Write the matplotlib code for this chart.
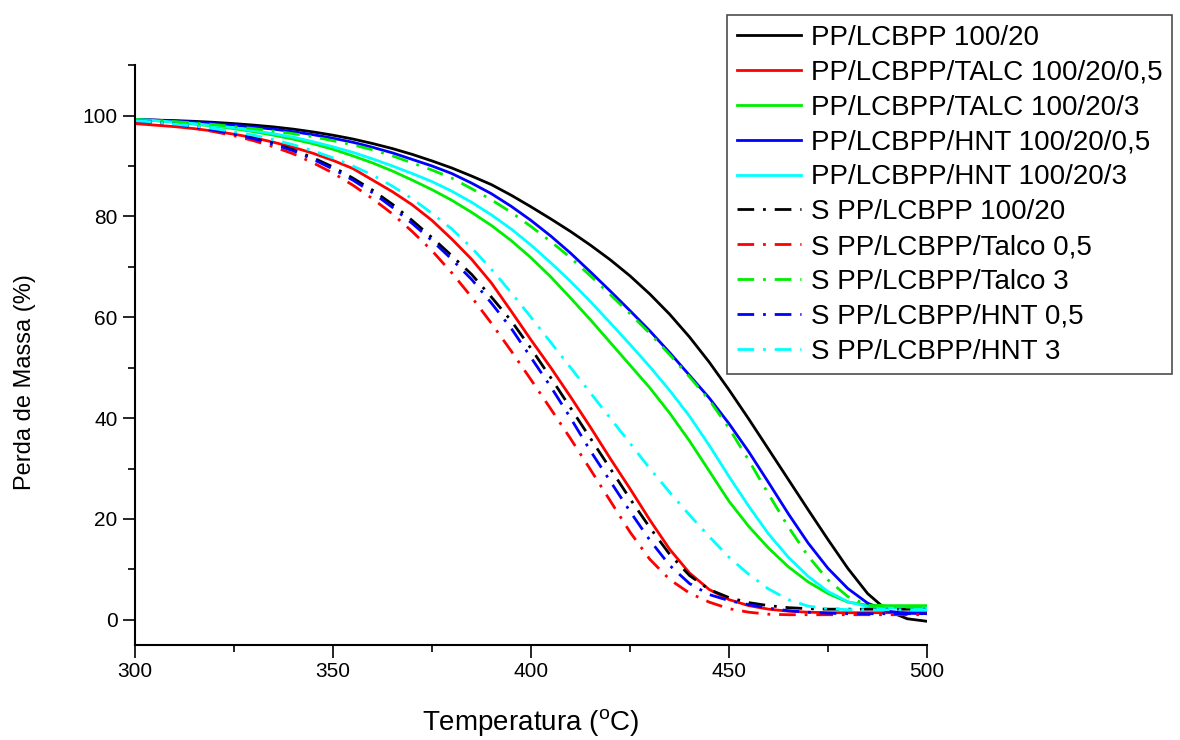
#!/usr/bin/env python3

import numpy as np
from matplotlib import pyplot as plt
from matplotlib.ticker import MultipleLocator

out_filename = "out.png"

plt.rcParams["font.family"] = ["Liberation Sans", "DejaVu Sans"]
plt.rcParams["mathtext.fontset"] = "custom"
plt.rcParams["mathtext.rm"] = "Liberation Sans"

temp = np.arange(300, 501, 5)

pp = [99.2, 99.1, 99.0, 98.85, 98.65, 98.4, 98.1, 97.75, 97.3, 96.75,
      96.1, 95.35, 94.45, 93.45, 92.3, 91.0, 89.6, 88.0, 86.3, 84.2,
      81.9, 79.5, 77.0, 74.3, 71.4, 68.2, 64.6, 60.6, 56.1, 51.1,
      45.6, 39.8, 33.8, 27.8, 21.8, 15.9, 10.2, 5.2, 1.8, 0.2, -0.3]
talc_05 = [98.4, 98.1, 97.8, 97.4, 96.9, 96.3, 95.6, 94.7, 93.7, 92.5,
           91.1, 89.5, 87.2, 84.9, 82.3, 79.2, 75.5, 71.5, 66.8, 61.2,
           55.5, 50.0, 44.2, 38.2, 32.0, 26.0, 19.8, 14.0, 9.3, 6.0,
           4.0, 2.8, 2.1, 1.7, 1.5, 1.4, 1.4, 1.4, 1.4, 1.4, 1.4]
talc_3 = [99.2, 99.0, 98.7, 98.3, 97.9, 97.4, 96.8, 96.1, 95.3, 94.4,
          93.3, 92.0, 90.6, 89.0, 87.2, 85.3, 83.2, 80.8, 78.2, 75.2,
          71.8, 68.0, 63.8, 59.5, 55.0, 50.5, 46.0, 41.0, 35.5, 29.5,
          23.5, 18.5, 14.2, 10.5, 7.5, 5.2, 3.5, 2.9, 2.8, 2.8, 2.8]
hnt_05 = [99.2, 99.1, 98.9, 98.7, 98.4, 98.1, 97.7, 97.3, 96.8, 96.2,
          95.5, 94.7, 93.7, 92.6, 91.3, 90.0, 88.5, 86.6, 84.5, 82.0,
          79.2, 76.1, 72.7, 69.0, 65.2, 61.3, 57.3, 53.0, 48.5, 44.0,
          38.9, 33.3, 27.2, 21.0, 15.2, 10.2, 6.2, 3.3, 1.7, 1.3, 1.2]
hnt_3 = [99.2, 99.0, 98.7, 98.4, 98.0, 97.6, 97.0, 96.4, 95.7, 94.8,
         93.8, 92.7, 91.4, 90.0, 88.5, 86.9, 85.0, 82.8, 80.3, 77.5,
         74.3, 70.8, 67.1, 63.1, 58.9, 54.6, 50.2, 45.5, 40.4, 34.6,
         28.4, 22.5, 17.0, 12.4, 8.6, 5.6, 3.6, 2.6, 2.3, 2.3, 2.3]
s_pp = [99.0, 98.7, 98.3, 97.8, 97.2, 96.4, 95.5, 94.5, 93.2, 91.6,
        89.8, 87.6, 85.2, 82.4, 79.2, 75.8, 72.2, 68.5, 64.0, 59.3,
        53.8, 48.0, 42.0, 36.0, 30.0, 24.0, 18.3, 13.0, 8.8, 6.0,
        4.4, 3.4, 2.8, 2.4, 2.2, 2.1, 2.1, 2.1, 2.1, 2.1, 2.1]
s_talc_05 = [98.8, 98.5, 98.1, 97.5, 96.8, 96.0, 95.0, 93.8, 92.4, 90.6,
             88.6, 86.2, 83.5, 80.5, 77.0, 73.2, 68.8, 64.0, 58.8, 53.3,
             47.6, 41.8, 35.9, 29.8, 23.6, 17.4, 12.0, 8.0, 5.3, 3.5,
             2.2, 1.5, 1.1, 1.0, 1.0, 1.0, 1.0, 1.0, 1.0, 1.0, 1.0]
s_talc_3 = [99.2, 99.0, 98.8, 98.5, 98.2, 97.8, 97.4, 96.9, 96.4, 95.8,
            95.0, 94.2, 93.2, 92.0, 90.6, 89.2, 87.6, 85.5, 83.3, 80.8,
            78.0, 75.0, 71.8, 68.2, 64.5, 60.7, 56.8, 52.6, 48.2, 43.6,
            38.0, 31.6, 24.9, 18.4, 12.6, 7.9, 4.6, 2.9, 2.6, 2.5, 2.5]
s_hnt_05 = [99.0, 98.7, 98.3, 97.7, 97.1, 96.3, 95.4, 94.3, 93.0, 91.3,
            89.4, 87.2, 84.7, 81.8, 78.6, 75.2, 71.5, 67.5, 62.8, 57.8,
            52.0, 46.2, 40.0, 33.5, 27.5, 21.5, 15.8, 10.8, 7.2, 5.0,
            3.8, 3.0, 2.3, 1.8, 1.5, 1.3, 1.2, 1.2, 1.2, 1.2, 1.2]
s_hnt_3 = [99.0, 98.7, 98.3, 97.9, 97.4, 96.8, 96.1, 95.2, 94.2, 93.0,
           91.6, 90.0, 88.2, 86.0, 83.5, 80.6, 77.5, 73.8, 69.5, 64.9,
           60.0, 55.0, 50.0, 45.0, 40.0, 35.0, 30.0, 25.3, 20.8, 16.5,
           12.4, 9.0, 6.1, 4.0, 2.7, 2.2, 2.0, 2.0, 2.0, 2.0, 2.0]

labels = [
    "PP/LCBPP 100/20",
    "PP/LCBPP/TALC 100/20/0,5",
    "PP/LCBPP/TALC 100/20/3",
    "PP/LCBPP/HNT 100/20/0,5",
    "PP/LCBPP/HNT 100/20/3",
    "S PP/LCBPP 100/20",
    "S PP/LCBPP/Talco 0,5",
    "S PP/LCBPP/Talco 3",
    "S PP/LCBPP/HNT 0,5",
    "S PP/LCBPP/HNT 3",
]
series = [pp, talc_05, talc_3, hnt_05, hnt_3,
          s_pp, s_talc_05, s_talc_3, s_hnt_05, s_hnt_3]
colors = ["#000000", "#ff0000", "#00ee00", "#0000ff", "#00ffff"] * 2


def main():
    fig = plt.figure(figsize=(11.8, 7.4), dpi=100)
    ax = fig.add_axes([0.1144, 0.1284, 0.6712, 0.7836])

    for i, (ys, label, color) in enumerate(zip(series, labels, colors)):
        if i < 5:
            ls = "-"
        else:
            ls = (0, (6, 3.2, 1, 3.2))
        ax.plot(temp, ys, color=color, linestyle=ls, linewidth=2.0, label=label)

    ax.set_xlim(300, 500)
    ax.set_ylim(-5, 110)
    ax.xaxis.set_major_locator(MultipleLocator(50))
    ax.xaxis.set_minor_locator(MultipleLocator(25))
    ax.yaxis.set_minor_locator(MultipleLocator(10))
    ax.set_yticks([0, 20, 40, 60, 80, 100])
    ax.tick_params(which="major", direction="out", length=9, width=1.2,
                   labelsize=15)
    ax.tick_params(which="minor", direction="out", length=5, width=1.2)
    for side in ("top", "right"):
        ax.spines[side].set_visible(False)
    for side in ("left", "bottom"):
        ax.spines[side].set_linewidth(1.5)

    ax.set_xlabel("Temperatura ($^{\\mathrm{o}}$C)", fontsize=20, labelpad=19)
    ax.set_ylabel("Perda de Massa (%)", fontsize=17)
    ax.yaxis.set_label_coords(-0.125, 0.453)

    leg = fig.legend(
        loc="upper right",
        bbox_to_anchor=(0.9932, 0.9797),
        fontsize=20,
        frameon=True,
        fancybox=False,
        edgecolor="0.3",
        framealpha=1,
        handlelength=2.3,
        handletextpad=0.35,
        labelspacing=0.32,
        borderpad=0.35,
        borderaxespad=0,
    )
    leg.get_frame().set_linewidth(1.2)

    fig.savefig(out_filename, dpi=100)


if __name__ == "__main__":
    main()
